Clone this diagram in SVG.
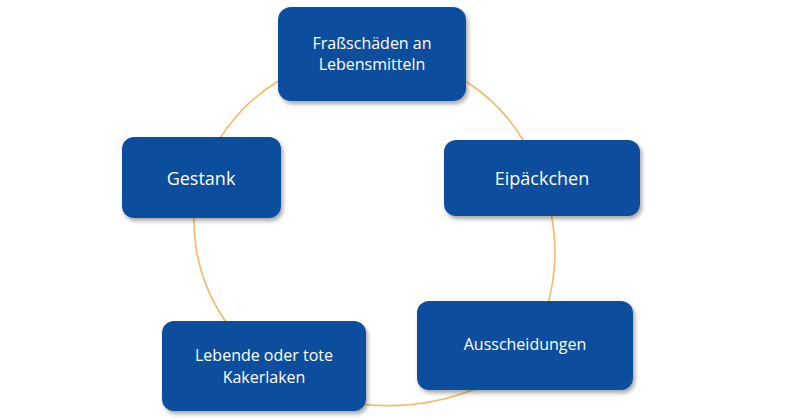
<svg xmlns="http://www.w3.org/2000/svg" width="792" height="420" viewBox="0 0 792 420">
  <style>
    .box { fill: #0E4D9D; filter: url(#sh); }
    .lbl { fill: #FFFFFF; font-family: "Open Sans", "Liberation Sans", sans-serif; font-size: 16px; text-anchor: middle; dominant-baseline: central; }
    .big { font-size: 18px; }
    .arc { fill: none; stroke: #F5B964; stroke-width: 1.6; }
  </style>
  <defs>
    <filter id="sh" x="-10%" y="-10%" width="125%" height="130%">
      <feGaussianBlur in="SourceAlpha" stdDeviation="2"/>
      <feOffset dx="2" dy="3" result="b"/>
      <feComponentTransfer><feFuncA type="linear" slope="0.35"/></feComponentTransfer>
      <feMerge><feMergeNode/><feMergeNode in="SourceGraphic"/></feMerge>
    </filter>
  </defs>
  <rect width="792" height="420" fill="#FFFFFF"/>
  <g id="connectors">
    <path class="arc" d="M467,82 A180,180 0 0 1 523,140"/>
    <path class="arc" d="M551,213 A200,200 0 0 1 548,304"/>
    <path class="arc" d="M480,387 A240,240 0 0 1 360,404"/>
    <path class="arc" d="M226,322 A180,180 0 0 1 194,216"/>
    <path class="arc" d="M219,140 A180,180 0 0 1 280,80"/>
  </g>
  <g id="node-frass">
    <rect class="box" x="278" y="7" width="188" height="94" rx="13"/>
    <text class="lbl" x="372" y="43">Fraßschäden an</text>
    <text class="lbl" x="372" y="64">Lebensmitteln</text>
  </g>
  <g id="node-eipaeckchen">
    <rect class="box" x="444" y="140" width="196" height="76" rx="12"/>
    <text class="lbl big" x="542" y="178">Eipäckchen</text>
  </g>
  <g id="node-ausscheidungen">
    <rect class="box" x="417" y="301" width="216" height="89" rx="12"/>
    <text class="lbl" x="525" y="344">Ausscheidungen</text>
  </g>
  <g id="node-lebende">
    <rect class="box" x="162" y="321" width="204" height="90" rx="12"/>
    <text class="lbl" x="264" y="355">Lebende oder tote</text>
    <text class="lbl" x="264" y="377">Kakerlaken</text>
  </g>
  <g id="node-gestank">
    <rect class="box" x="122" y="137" width="159" height="81" rx="12"/>
    <text class="lbl big" x="201" y="178">Gestank</text>
  </g>
</svg>
